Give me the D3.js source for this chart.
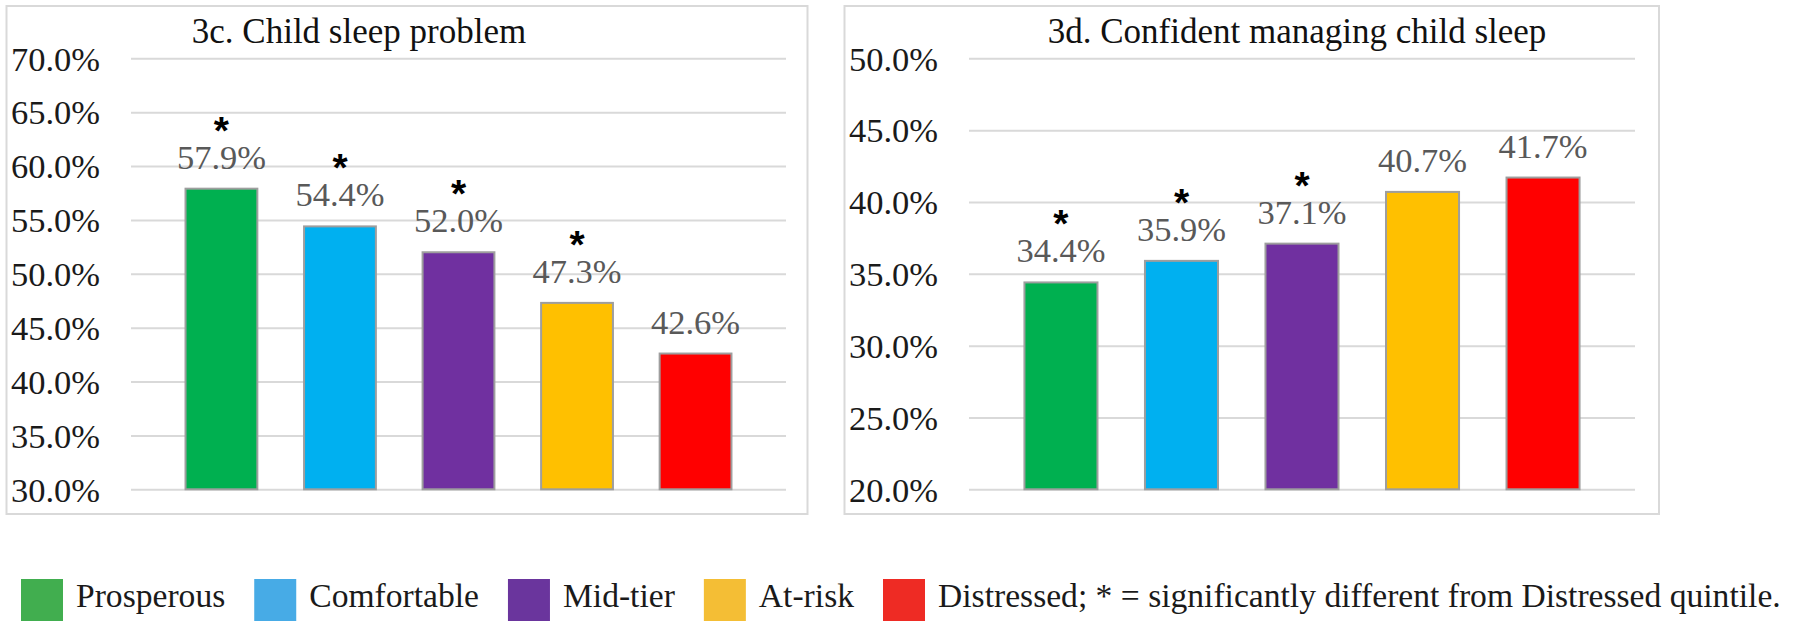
<!DOCTYPE html>
<html>
<head>
<meta charset="utf-8">
<script src="https://cdn.jsdelivr.net/npm/d3@7"></script>
<style>
  html, body { margin: 0; padding: 0; background: #fff; }
  svg { display: block; }
</style>
</head>
<body>
<svg id="chart" width="1800" height="634"></svg>
<script>
// ---- data ----
const categories = ["Prosperous", "Comfortable", "Mid-tier", "At-risk", "Distressed"];
const barColors = ["#00B050", "#00B0F0", "#7030A0", "#FFC000", "#FF0000"];
const legendColors = ["#41AE4F", "#47ABE6", "#6A359D", "#F4BE35", "#EE2B24"];

const sleepProblem = [57.9, 54.4, 52.0, 47.3, 42.6];
const sleepProblemSig = [true, true, true, true, false];
const sleepTicks = [30, 35, 40, 45, 50, 55, 60, 65, 70];

const confident = [34.4, 35.9, 37.1, 40.7, 41.7];
const confidentSig = [true, true, true, false, false];
const confidentTicks = [20, 25, 30, 35, 40, 45, 50];

const titles = ["3c. Child sleep problem", "3d. Confident managing child sleep"];
const legendNote = "; * = significantly different from Distressed quintile.";

// ---- layout ----
const SERIF = '"Liberation Serif"';
const SANS = '"Liberation Sans"';
const svg = d3.select("#chart");
const yTop = 58.3, yBottom = 489.3;

const panels = [
  { title: titles[0], values: sleepProblem, sig: sleepProblemSig, ticks: sleepTicks,
    box: [6.5, 6, 807.5, 514], grid: [131, 786], titleX: 359 },
  { title: titles[1], values: confident, sig: confidentSig, ticks: confidentTicks,
    box: [844.5, 6, 1659, 514], grid: [969, 1635], titleX: 1297 }
];

panels.forEach(p => {
  const g = svg.append("g");
  g.append("rect")
    .attr("x", p.box[0]).attr("y", p.box[1])
    .attr("width", p.box[2] - p.box[0]).attr("height", p.box[3] - p.box[1])
    .attr("fill", "#fff").attr("stroke", "#D9D9D9").attr("stroke-width", 2);

  const y = d3.scaleLinear()
    .domain([d3.min(p.ticks), d3.max(p.ticks)])
    .range([yBottom, yTop]);
  const x = d3.scaleBand()
    .domain(categories)
    .range(p.grid)
    .paddingInner(0.394)
    .paddingOuter(0.46);

  const axis = d3.axisLeft(y)
    .tickValues(p.ticks)
    .tickFormat(d => d3.format(".1f")(d) + "%")
    .tickSizeInner(-(p.grid[1] - p.grid[0]))
    .tickSizeOuter(0)
    .tickPadding(31);
  const ag = g.append("g").attr("transform", `translate(${p.grid[0]},0)`).call(axis);
  ag.attr("font-family", null).attr("font-size", null);
  ag.select(".domain").remove();
  ag.selectAll(".tick line").attr("stroke", "#D9D9D9").attr("stroke-width", 2);
  ag.selectAll(".tick text")
    .attr("fill", "#1a1a1a")
    .style("font-family", SERIF)
    .style("font-size", "34.5px")
    .attr("dy", "0.34em");

  g.append("text")
    .attr("x", p.titleX).attr("y", 43)
    .attr("text-anchor", "middle")
    .attr("fill", "#111")
    .style("font-family", SERIF)
    .style("font-size", "35px")
    .text(p.title);

  const data = categories.map((c, i) => ({ c, v: p.values[i], s: p.sig[i], col: barColors[i] }));

  g.selectAll("rect.bar").data(data).enter().append("rect")
    .attr("class", "bar")
    .attr("x", d => x(d.c))
    .attr("y", d => y(d.v))
    .attr("width", x.bandwidth())
    .attr("height", d => y(y.domain()[0]) - y(d.v))
    .attr("fill", d => d.col)
    .attr("stroke", "#9E9E9E")
    .attr("stroke-width", 2);

  g.selectAll("text.val").data(data).enter().append("text")
    .attr("class", "val")
    .attr("x", d => x(d.c) + x.bandwidth() / 2)
    .attr("y", d => y(d.v) - 20)
    .attr("text-anchor", "middle")
    .attr("fill", "#595959")
    .style("font-family", SERIF)
    .style("font-size", "34.5px")
    .text(d => d3.format(".1f")(d.v) + "%");

  g.selectAll("text.sig").data(data.filter(d => d.s)).enter().append("text")
    .attr("class", "sig")
    .attr("x", d => x(d.c) + x.bandwidth() / 2)
    .attr("y", d => y(d.v) - 45)
    .attr("text-anchor", "middle")
    .attr("fill", "#000")
    .style("font-family", SANS)
    .style("font-weight", "bold")
    .style("font-size", "39px")
    .text("*");
});

// ---- legend ----
const lg = svg.append("g");
let lx = 21;
categories.forEach((c, i) => {
  lg.append("rect")
    .attr("x", lx).attr("y", 579)
    .attr("width", 42).attr("height", 42)
    .attr("fill", legendColors[i]);
  const t = lg.append("text")
    .attr("x", lx + 55).attr("y", 607)
    .attr("fill", "#1a1a1a")
    .style("font-family", SERIF)
    .style("font-size", "33.6px")
    .text(i === categories.length - 1 ? c + legendNote : c);
  lx = lx + 55 + t.node().getComputedTextLength() + 29;
});
</script>
</body>
</html>
